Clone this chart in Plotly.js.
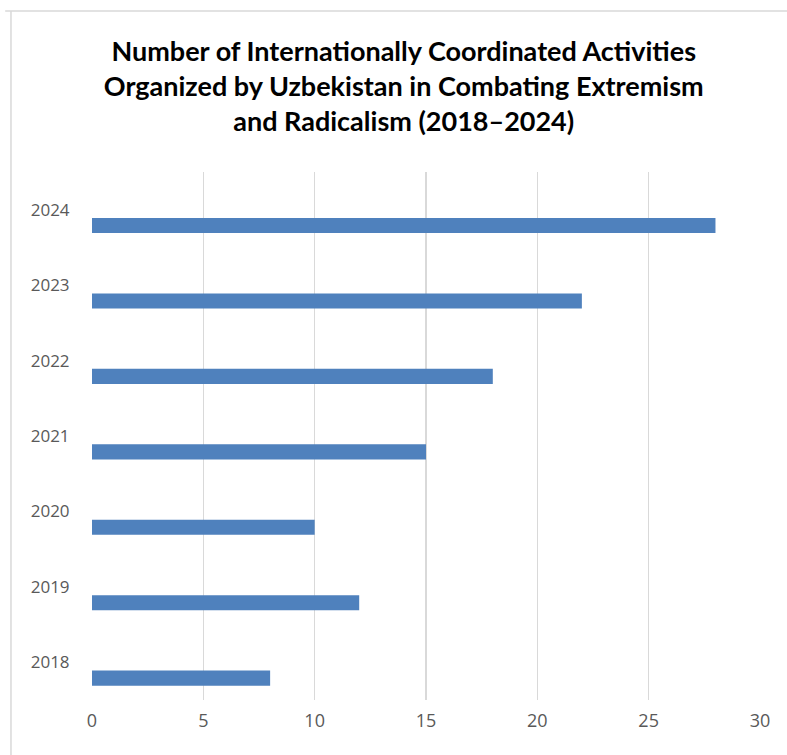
<!DOCTYPE html>
<html>
<head>
<meta charset="utf-8">
<script src="https://cdn.plot.ly/plotly-3.0.1.min.js"></script>
<style>html,body{margin:0;padding:0;background:#fff;}#chart{width:787px;height:755px;}</style>
</head>
<body>
<div id="chart"></div>
<script>
const years = ["2018", "2019", "2020", "2021", "2022", "2023", "2024"];
const activities = [8, 12, 10, 15, 18, 22, 28];
const xTicks = [0, 5, 10, 15, 20, 25, 30];
const titleText = "Number of Internationally Coordinated Activities<br>Organized by Uzbekistan in Combating Extremism<br>and Radicalism (2018–2024)";

const trace = {
  type: "bar",
  orientation: "h",
  x: activities,
  y: years,
  width: 0.2,
  offset: -0.31,
  marker: {color: "#4f81bd", line: {color: "#4f81bd", width: 0}},
  hoverinfo: "x+y"
};

const layout = {
  width: 787,
  height: 755,
  margin: {l: 92, r: 27, t: 172, b: 55},
  paper_bgcolor: "#ffffff",
  plot_bgcolor: "#ffffff",
  showlegend: false,
  title: {
    text: titleText,
    font: {family: "Lato, 'Open Sans', sans-serif", size: 27, color: "#000000", weight: "bold"},
    x: 0.513, xanchor: "center",
    yref: "container", y: 1 - 61/755, yanchor: "top"
  },
  xaxis: {
    range: [0, 30],
    tickvals: xTicks,
    ticktext: xTicks.map(String),
    showgrid: true,
    gridcolor: "#d9d9d9",
    gridwidth: 1.5,
    zeroline: false,
    showline: false,
    ticks: "outside",
    ticklen: 4,
    tickcolor: "rgba(0,0,0,0)",
    tickfont: {family: "'Open Sans', sans-serif", size: 18, color: "#595959"},
    fixedrange: true
  },
  yaxis: {
    type: "category",
    categoryorder: "array",
    categoryarray: years,
    range: [-0.5, 6.5],
    showgrid: false,
    zeroline: false,
    showline: false,
    ticks: "outside",
    ticklen: 18,
    tickcolor: "rgba(0,0,0,0)",
    tickfont: {family: "'Open Sans', sans-serif", size: 17, color: "#595959"},
    fixedrange: true
  },
  shapes: [
    {type: "line", xref: "paper", yref: "paper", x0: -0.1213, x1: -0.1213, y0: 1.305, y1: -0.2, line: {color: "#d9d9d9", width: 1.5}},
    {type: "line", xref: "paper", yref: "paper", x0: -0.13, x1: 1.1, y0: 1.305, y1: 1.305, line: {color: "#d9d9d9", width: 1.5}}
  ]
};

Plotly.newPlot("chart", [trace], layout, {displayModeBar: false, staticPlot: true});
</script>
</body>
</html>
